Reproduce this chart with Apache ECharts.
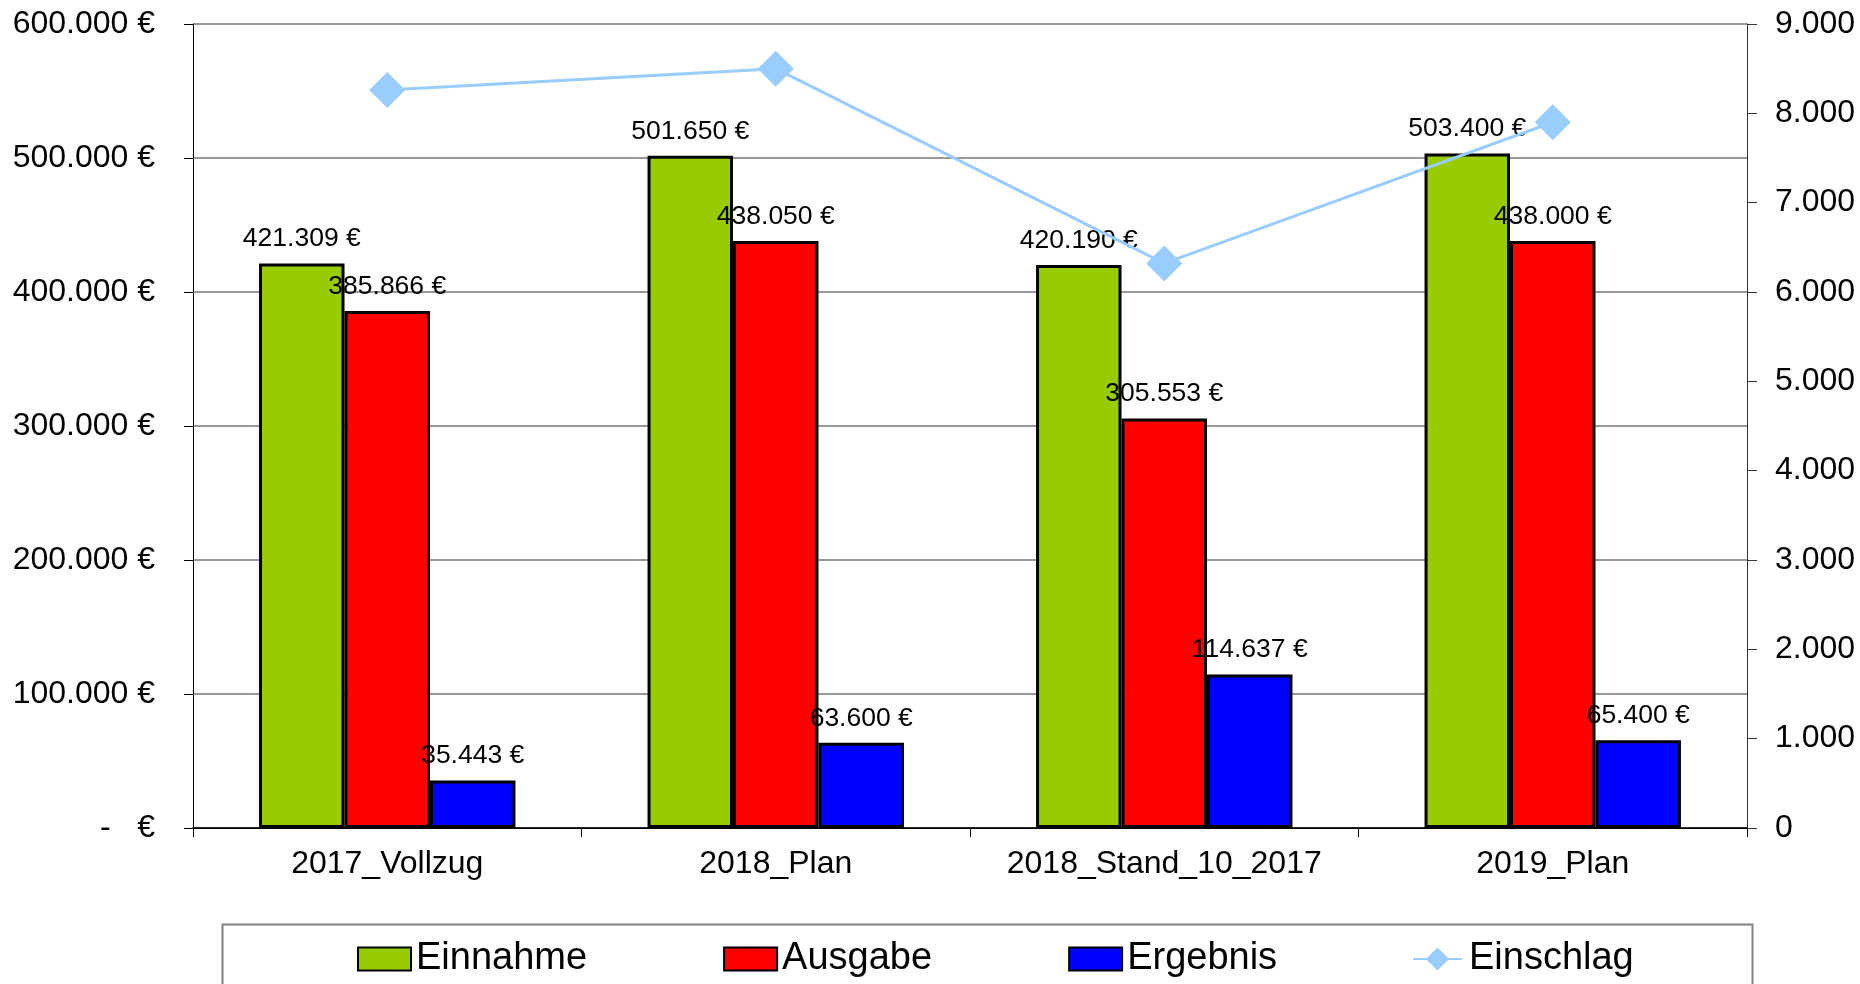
<!DOCTYPE html>
<html>
<head>
<meta charset="utf-8">
<title>Einnahme / Ausgabe / Ergebnis</title>
<script src="https://cdn.jsdelivr.net/npm/echarts@6/dist/echarts.min.js"></script>
<style>
    html, body {
        margin: 0;
        padding: 0;
        width: 100%;
        height: 100%;
        background: #fff;
    }
    #chartContainer {
        width: 1860px;
        height: 984px;
    }
</style>
</head>
<body>
<div id="chartContainer"></div>
<script>
// data
var categories = ['2017_Vollzug', '2018_Plan', '2018_Stand_10_2017', '2019_Plan'];
var einnahme = [421309, 501650, 420190, 503400];
var ausgabe = [385866, 438050, 305553, 438000];
var ergebnis = [35443, 63600, 114637, 65400];
var einschlag = [8260, 8500, 6320, 7900];

var fontName = '"Liberation Sans", Arial, sans-serif';

function euro(v) {
    if (v === 0) {
        return '-   \u20ac';
    }
    return String(v).replace(/\B(?=(\d{3})+(?!\d))/g, '.') + ' \u20ac';
}

function dots(v) {
    return String(v).replace(/\B(?=(\d{3})+(?!\d))/g, '.');
}

var chartContainer = document.getElementById('chartContainer');
var chart = echarts.init(chartContainer, null, { renderer: 'canvas' });

var barLabel = {
    show: true,
    position: 'top',
    distance: 11,
    color: '#000',
    fontFamily: fontName,
    fontSize: 26.5,
    formatter: function (p) {
        return euro(p.value);
    }
};

// line + diamond like the excel legend key
var lineKey = 'path://M0,10.5L15,10.5L26.5,-1L38,10.5L53,10.5L53,12.5L38,12.5L26.5,24L15,12.5L0,12.5Z';

var option = {
    animation: false,
    backgroundColor: '#fff',
    textStyle: { fontFamily: fontName },
    grid: {
        left: 193,
        right: 113,
        top: 24,
        bottom: 156,
        outerBoundsMode: 'none'
    },
    legend: {
        left: 352,
        top: 935,
        itemWidth: 53,
        itemHeight: 23,
        itemGap: 136,
        textStyle: {
            fontFamily: fontName,
            fontSize: 38,
            color: '#000'
        },
        data: [
            { name: 'Einnahme', icon: 'rect' },
            { name: 'Ausgabe', icon: 'rect' },
            { name: 'Ergebnis', icon: 'rect' },
            { name: 'Einschlag', icon: lineKey, itemStyle: { color: '#99CCFF', borderWidth: 0 } }
        ]
    },
    // frame around the legend
    graphic: [
        {
            type: 'rect',
            left: 220,
            top: 922,
            shape: { width: 1530, height: 90 },
            style: { fill: 'none', stroke: '#808080', lineWidth: 2 },
            silent: true
        }
    ],
    xAxis: [
        {
            type: 'category',
            data: categories,
            axisLine: { lineStyle: { color: '#000', width: 1 } },
            axisTick: { show: true, interval: 0, length: 9, lineStyle: { color: '#000' } },
            axisLabel: {
                interval: 0,
                color: '#000',
                fontFamily: fontName,
                fontSize: 32,
                margin: 20
            }
        },
        {
            // top edge of the plot area
            type: 'category',
            data: categories,
            position: 'top',
            z: 5,
            axisLine: { show: true, lineStyle: { color: '#000', width: 1.5 } },
            axisTick: { show: false },
            axisLabel: { show: false }
        }
    ],
    yAxis: [
        {
            type: 'value',
            min: 0,
            max: 600000,
            interval: 100000,
            axisLine: { show: true, lineStyle: { color: '#000', width: 1 } },
            axisTick: { show: true, length: 9, lineStyle: { color: '#000' } },
            splitLine: { show: true, lineStyle: { color: '#777', width: 1.5 } },
            axisLabel: {
                color: '#000',
                fontFamily: fontName,
                fontSize: 32,
                margin: 38,
                formatter: euro
            }
        },
        {
            type: 'value',
            min: 0,
            max: 9000,
            interval: 1000,
            position: 'right',
            axisLine: { show: true, lineStyle: { color: '#333', width: 1 } },
            axisTick: { show: true, length: 10, lineStyle: { color: '#333' } },
            splitLine: { show: false },
            axisLabel: {
                color: '#000',
                fontFamily: fontName,
                fontSize: 32,
                margin: 28,
                formatter: dots
            }
        }
    ],
    series: [
        {
            name: 'Einnahme',
            type: 'bar',
            data: einnahme,
            barGap: '0%',
            barCategoryGap: '34%',
            itemStyle: { color: '#99CC00', borderColor: '#000', borderWidth: 3 },
            label: barLabel
        },
        {
            name: 'Ausgabe',
            type: 'bar',
            data: ausgabe,
            itemStyle: { color: '#FF0000', borderColor: '#000', borderWidth: 3 },
            label: barLabel
        },
        {
            name: 'Ergebnis',
            type: 'bar',
            data: ergebnis,
            itemStyle: { color: '#0000FF', borderColor: '#000', borderWidth: 3 },
            label: barLabel
        },
        {
            name: 'Einschlag',
            type: 'line',
            yAxisIndex: 1,
            data: einschlag,
            symbol: 'diamond',
            symbolSize: 36,
            lineStyle: { color: '#99CCFF', width: 3 },
            itemStyle: { color: '#99CCFF' },
            z: 3
        }
    ]
};

chart.setOption(option);
window.addEventListener('resize', chart.resize);
</script>
</body>
</html>
